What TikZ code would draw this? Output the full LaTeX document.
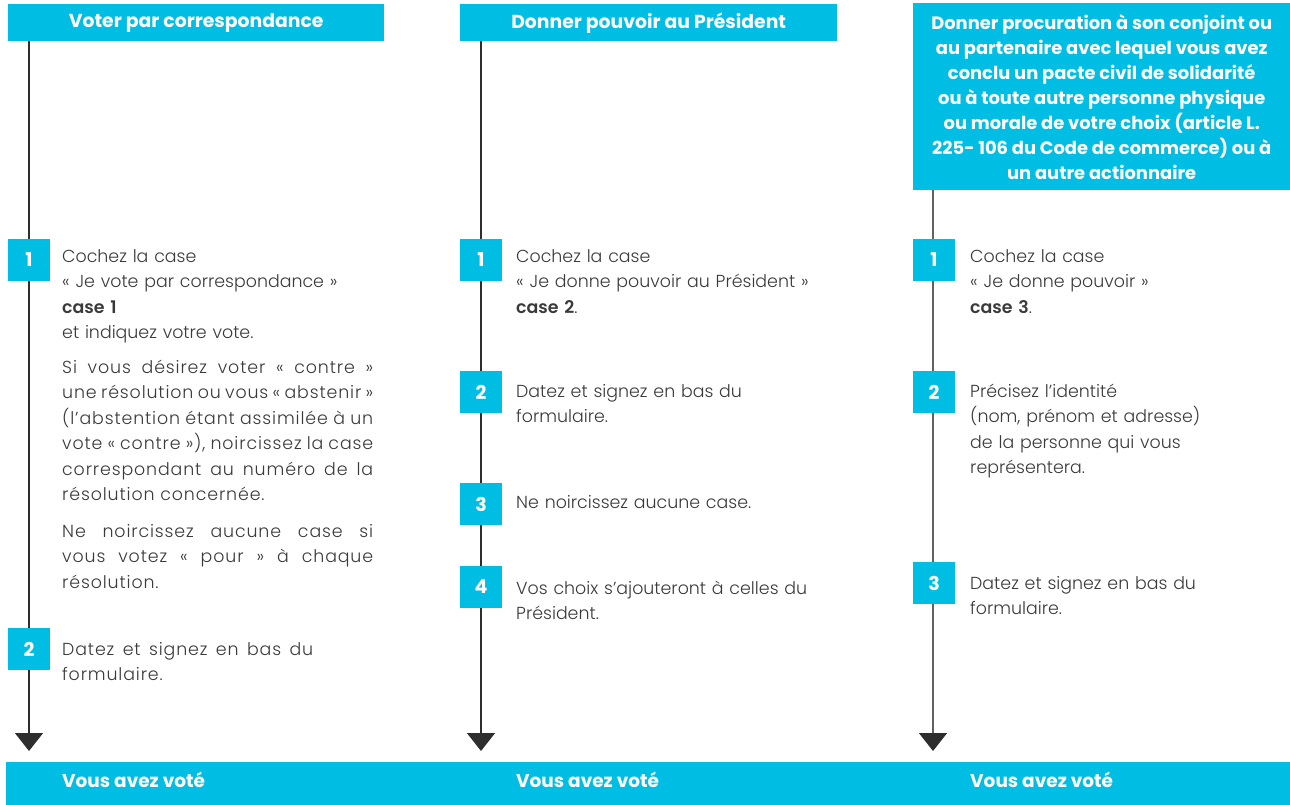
\documentclass[tikz,border=0pt]{standalone}
\usepackage{fontspec}
\setmainfont{Poppins}[UprightFont={* Light},BoldFont={* SemiBold}]
\newfontfamily\hdrfont{Poppins}[UprightFont={* Bold},BoldFont={* Bold}]
\newfontfamily\spcfont{Poppins}[UprightFont={* Light},LetterSpace=5]
\usetikzlibrary{arrows.meta}
\definecolor{cy}{HTML}{00BDE4}
\definecolor{txt}{HTML}{3A3A3A}
\definecolor{ln}{HTML}{2E2E2E}
\newcommand\jline[2][311pt]{\makebox[#1][s]{\spaceskip=0pt\xspaceskip=0pt #2}}
\begin{document}
\begin{tikzpicture}[x=1pt,y=-1pt,
  hdr/.style={fill=cy,text=white,inner sep=0pt,anchor=north west,font=\hdrfont\fontsize{18.8}{25}\selectfont},
  numbox/.style={fill=cy,text=white,inner sep=0pt,minimum size=42pt,font=\hdrfont\fontsize{19}{19}\selectfont},
  body/.style={anchor=base west,inner sep=0pt,text=txt,align=left,text width=345pt,font=\fontsize{17.4}{25.5}\selectfont},
  spbody/.style={body,font=\spcfont\fontsize{17.4}{25.5}\selectfont},
  foot/.style={anchor=base west,inner sep=0pt,text=white,font=\hdrfont\fontsize{18.5}{20}\selectfont},
  flow/.style={draw=ln,line width=1.5pt,-{Triangle[width=28pt,length=18pt,color=ln]}}
]
\useasboundingbox (0,0) rectangle (1290,805);
% headers
\node[hdr,minimum width=376pt,minimum height=37pt] (h1) at (8,4) {Voter par correspondance};
\node[hdr,minimum width=377pt,minimum height=37pt] (h2) at (460,4) {Donner pouvoir au Président};
\node[hdr,minimum width=377pt,minimum height=187pt,align=center,font=\hdrfont\fontsize{17.9}{25}\selectfont] (h3) at (913,3) {Donner procuration à son conjoint ou\\au partenaire avec lequel vous avez\\conclu un pacte civil de solidarité\\ou à toute autre personne physique\\ou morale de votre choix (article L.\\225- 106 du Code de commerce) ou à\\un autre actionnaire};
% bottom bar
\node[fill=cy,inner sep=0pt,anchor=north west,minimum width=1284pt,minimum height=43pt] (bar) at (6,762) {};
% flow lines
\coordinate (t1) at (29,751);
\coordinate (t2) at (481,751);
\coordinate (t3) at (933,751);
\draw[flow] (h1.south west -| t1) -- (t1);
\draw[flow] (h2.south west -| t2) -- (t2);
\draw[flow,draw=ln!75] (h3.south west -| t3) -- (t3);
% number boxes
\node[numbox] (a1) at (29,260) {1};
\node[numbox] (a2) at (29,649) {2};
\node[numbox] (b1) at (481,260) {1};
\node[numbox] (b2) at (481,392) {2};
\node[numbox] (b3) at (481,504) {3};
\node[numbox] (b4) at (481,587) {4};
\node[numbox] (c1) at (934,260) {1};
\node[numbox] (c2) at (934,392) {2};
\node[numbox] (c3) at (934,583) {3};
% column 1 texts
\node[body] (ta1) at (62,262) {Cochez la case\\« Je vote par correspondance »\\\textbf{case 1}\\et indiquez votre vote.};
\node[spbody] (ta1b) at (62,373) {\jline{Si vous désirez voter « contre »}\\\jline{une résolution ou vous « abstenir »}\\\jline{(l’abstention étant assimilée à un}\\\jline{vote « contre »), noircissez la case}\\\jline{correspondant au numéro de la}\\résolution concernée.};
\node[spbody] (ta1c) at (62,537) {\jline{Ne noircissez aucune case si}\\\jline{vous votez « pour » à chaque}\\résolution.};
\node[spbody] (ta2) at (62,655) {\jline[251pt]{Datez et signez en bas du}\\formulaire.};
% column 2 texts
\node[body] (tb1) at (516,262) {Cochez la case\\« Je donne pouvoir au Président »\\\textbf{case 2}.};
\node[body] (tb2) at (516,397) {Datez et signez en bas du\\formulaire.};
\node[body] (tb3) at (516,508) {Ne noircissez aucune case.};
\node[body] (tb4) at (516,594) {Vos choix s’ajouteront à celles du\\Président.};
% column 3 texts
\node[body] (tc1) at (970,262) {Cochez la case\\« Je donne pouvoir »\\\textbf{case 3}.};
\node[body] (tc2) at (970,397) {Précisez l’identité\\(nom, prénom et adresse)\\de la personne qui vous\\représentera.};
\node[body] (tc3) at (970,589) {Datez et signez en bas du\\formulaire.};
% footer texts
\node[foot] (f1) at (62,787) {Vous avez voté};
\node[foot] (f2) at (516,787) {Vous avez voté};
\node[foot] (f3) at (970,787) {Vous avez voté};
\end{tikzpicture}
\end{document}
